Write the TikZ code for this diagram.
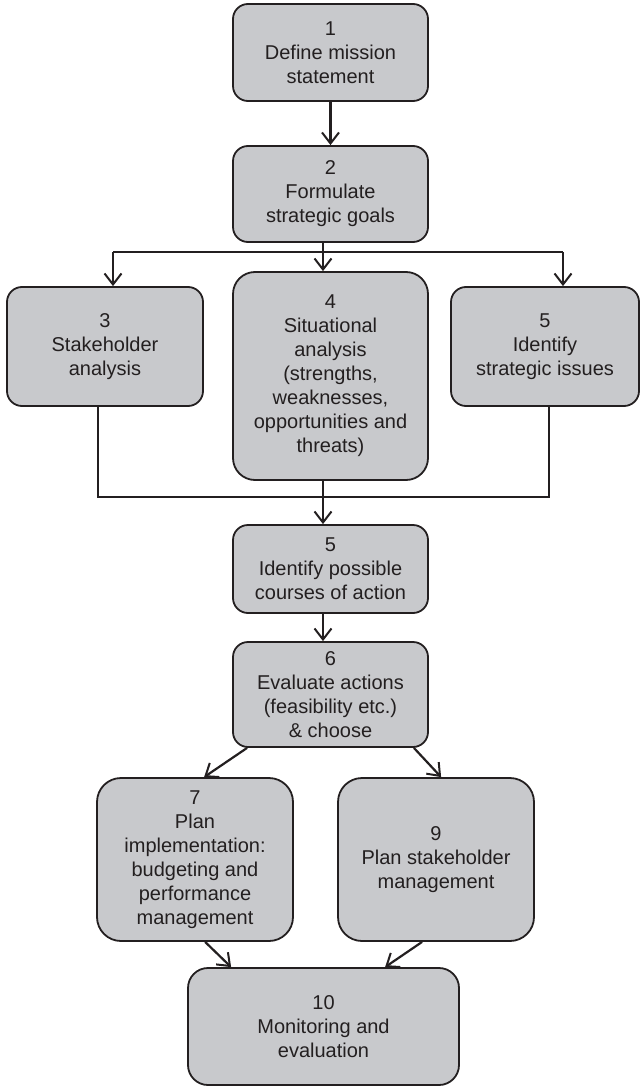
\documentclass[tikz,border=0pt]{standalone}
\usepackage{fontspec}
\setmainfont{Liberation Sans}
\usetikzlibrary{arrows.meta}
\definecolor{boxfill}{RGB}{200,201,204}
\definecolor{ink}{RGB}{35,31,32}
\tikzset{
  box/.style={draw=ink, fill=boxfill, line width=1.8pt, rounded corners=#1,
    align=center, text=ink, inner sep=0pt,
    font=\fontsize{20}{24}\selectfont},
  box/.default=15pt,
  link/.style={draw=ink, line width=2.2pt},
  arr/.style={link, -{Straight Barb[length=11pt,width=17pt,line width=2pt]}}
}
\begin{document}
\begin{tikzpicture}[x=1pt,y=-1pt]
\useasboundingbox (0,0) rectangle (640,1086);

% process steps
\node[box, minimum width=195pt, minimum height=97pt] (b1) at (330.5,52.5)
  {1\\Define mission\\statement};
\node[box, minimum width=195pt, minimum height=96pt] (b2) at (330.5,194)
  {2\\Formulate\\strategic goals};
\node[box, minimum width=196pt, minimum height=119pt] (b3) at (105,346.5)
  {3\\Stakeholder\\analysis};
\node[box=22pt, minimum width=195pt, minimum height=208pt] (b4) at (330.5,376)
  {4\\Situational\\analysis\\(strengths,\\weaknesses,\\opportunities and\\threats)};
\node[box, minimum width=188pt, minimum height=119pt] (b5) at (545,346.5)
  {5\\Identify\\strategic issues};
\node[box, minimum width=195pt, minimum height=88pt] (b5p) at (330.5,569)
  {5\\Identify possible\\courses of action};
\node[box, minimum width=195pt, minimum height=105pt] (b6) at (330.5,694.5)
  {6\\Evaluate actions\\(feasibility etc.)\\\& choose};
\node[box=24pt, minimum width=196pt, minimum height=163pt] (b7) at (195,859.5)
  {7\\Plan\\implementation:\\budgeting and\\performance\\management};
\node[box=24pt, minimum width=196pt, minimum height=163pt] (b9) at (436,859.5)
  {9\\Plan stakeholder\\management};
\node[box=20pt, minimum width=271pt, minimum height=117pt] (b10) at (323.5,1026.5)
  {10\\Monitoring and\\evaluation};

% junction points of the branching lines
\coordinate (jl) at (113,252);
\coordinate (jm) at (323,252);
\coordinate (jr) at (563,252);
\coordinate (kl) at (98,497);
\coordinate (km) at (323,497);
\coordinate (kr) at (549,497);

% connectors
\draw[arr] (b1.south) -- (b2.north);
\draw[link] (b2.south -| jm) -- (jm);
\draw[link] (jl) -- (jr);
\draw[arr] (jl) -- (b3.north -| jl);
\draw[arr] (jm) -- (b4.north -| jm);
\draw[arr] (jr) -- (b5.north -| jr);
\draw[link] (b3.south -| kl) -- (kl) -- (kr) -- (b5.south -| kr);
\draw[link] (b4.south -| km) -- (km);
\draw[arr] (km) -- (b5p.north -| km);
\draw[arr] (b5p.south -| km) -- (b6.north -| km);
\draw[arr] ([xshift=15pt]b6.south west) -- ([xshift=108pt]b7.north west);
\draw[arr] ([xshift=-15pt]b6.south east) -- ([xshift=104pt]b9.north west);
\draw[arr] ([xshift=109pt]b7.south west) -- ([xshift=44pt]b10.north west);
\draw[arr] ([xshift=85pt]b9.south west) -- ([xshift=198pt]b10.north west);
\end{tikzpicture}
\end{document}
